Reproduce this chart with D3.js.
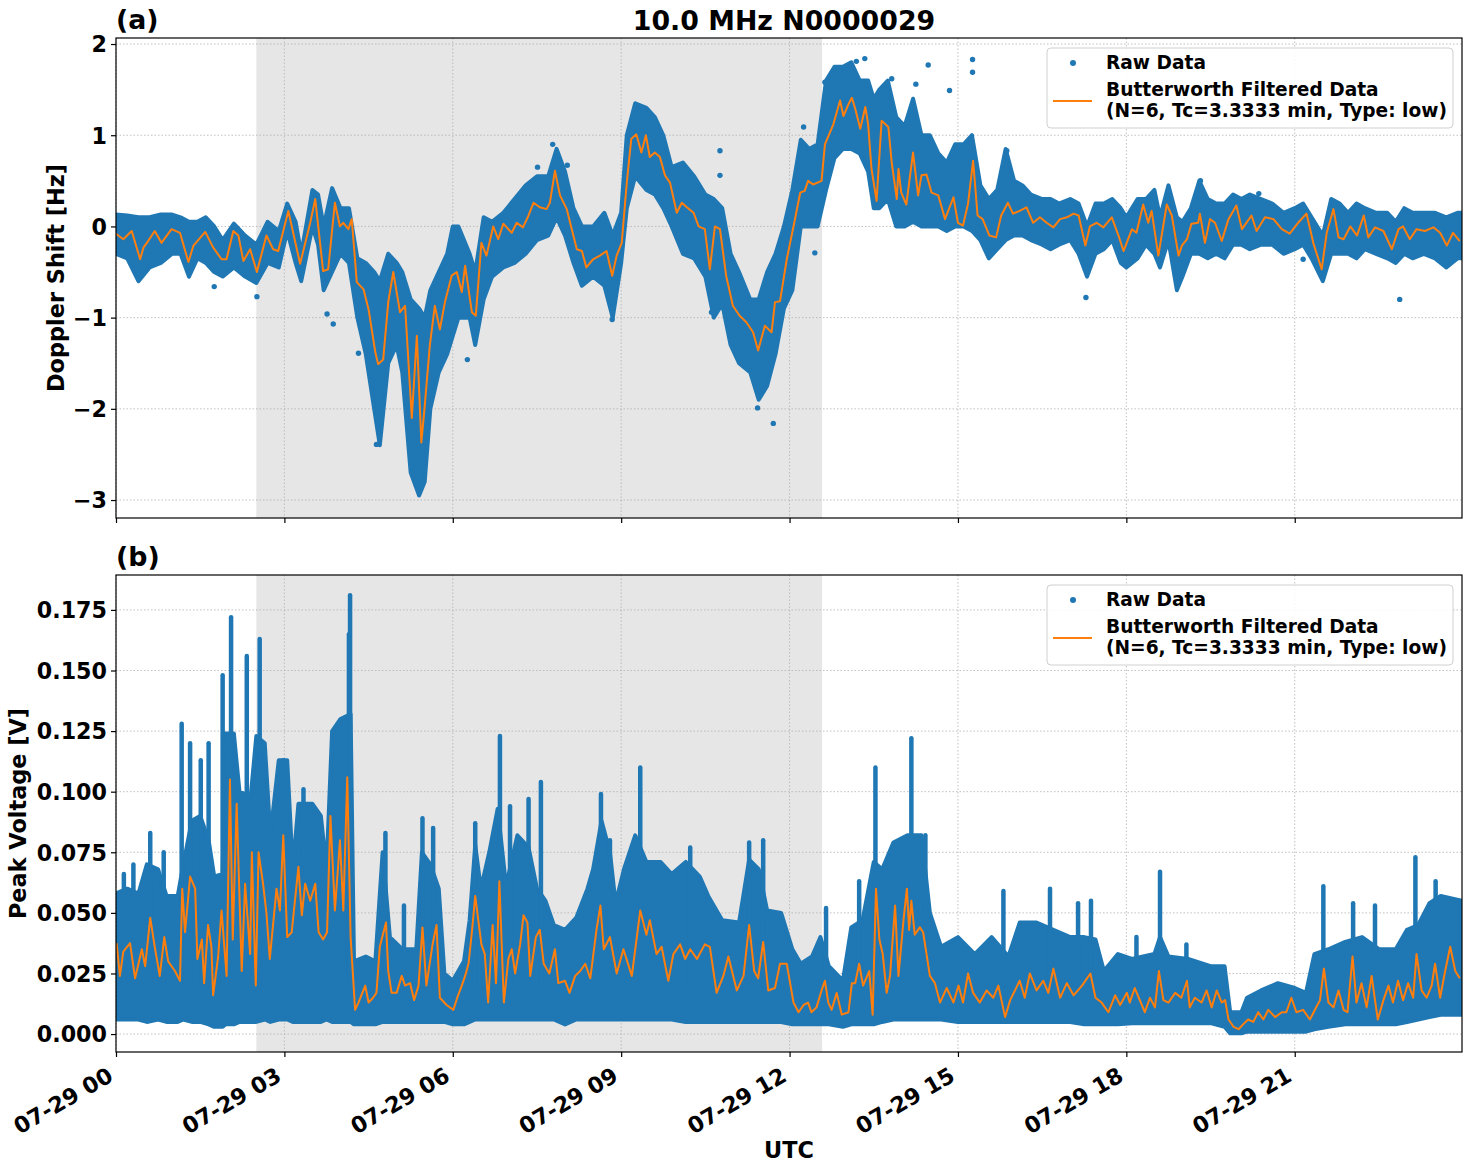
<!DOCTYPE html>
<html><head><meta charset="utf-8">
<script src="https://cdn.jsdelivr.net/npm/d3@7"></script>
<style>
body{margin:0;background:#fff}
text{font-family:"DejaVu Sans",sans-serif;font-weight:bold;fill:#000}
</style>
</head><body>
<svg id="c" width="1472" height="1172"></svg>
<script>
// ---------- DATA (hours after 2024-07-29 00:00 UTC) ----------
const titleText = "10.0 MHz N0000029";
const shadeStartH = 2.5, shadeEndH = 12.58;
const xTickHours = [0,3,6,9,12,15,18,21];
const dopTicks = [-3,-2,-1,0,1,2];
const pvTicks = [0,0.025,0.05,0.075,0.1,0.125,0.15,0.175];

// Doppler: Butterworth filtered
const dopT = [0,0.13,0.28,0.43,0.49,0.55,0.69,0.81,0.99,1.14,1.29,1.38,1.59,1.73,1.88,1.97,2.09,2.18,2.27,2.39,2.51,2.68,2.8,2.89,3.07,3.28,3.46,3.55,3.69,3.78,3.9,3.99,4.05,4.14,4.2,4.29,4.41,4.5,4.62,4.67,4.76,4.85,4.94,5.06,5.15,5.27,5.36,5.44,5.5,5.59,5.68,5.77,5.86,5.98,
6.07,6.16,6.22,6.34,6.41,6.51,6.6,6.72,6.81,6.9,7.05,7.14,7.25,7.35,7.44,7.55,7.67,7.73,7.82,7.91,8.03,8.12,8.21,8.3,8.38,8.5,8.62,8.74,8.84,8.92,9.01,9.1,9.18,9.27,9.36,9.44,9.51,9.6,9.69,9.78,9.87,9.99,10.08,10.17,10.29,10.38,10.49,10.58,10.67,10.76,10.87,10.99,11.11,11.23,11.35,11.44,11.56,11.68,11.74,11.83,11.95,
12.07,12.19,12.27,12.33,12.42,12.57,12.63,12.78,12.9,12.96,13.05,13.11,13.17,13.26,13.35,13.4,13.46,13.55,13.64,13.76,13.82,13.91,13.94,13.99,14.08,14.2,14.29,14.35,14.44,14.53,14.65,14.77,14.92,15,15.09,15.18,15.27,15.35,15.44,15.56,15.68,15.77,15.89,15.98,16.1,16.22,16.34,16.46,16.58,16.7,16.82,16.94,17.06,17.15,17.27,17.35,17.47,17.59,17.74,17.86,17.95,
18.1,18.18,18.3,18.39,18.45,18.57,18.72,18.81,18.93,18.99,19.08,19.16,19.28,19.31,19.4,19.49,19.58,19.7,19.82,19.96,20.06,20.23,20.32,20.47,20.62,20.77,20.91,21.06,21.21,21.33,21.48,21.57,21.69,21.78,21.87,21.99,22.11,22.23,22.31,22.43,22.58,22.73,22.85,22.93,23.05,23.17,23.32,23.47,23.59,23.71,23.82,23.94];
const dopF = [-0.08,-0.14,-0.05,-0.36,-0.23,-0.18,-0.05,-0.18,-0.03,-0.07,-0.39,-0.21,-0.06,-0.23,-0.36,-0.36,-0.05,-0.1,-0.38,-0.25,-0.5,-0.1,-0.25,-0.27,0.17,-0.41,0.04,0.3,-0.49,-0.47,0.26,0,0.04,-0.03,0.08,-0.61,-0.69,-0.91,-1.38,-1.51,-1.46,-0.83,-0.5,-0.94,-0.87,-2.1,-1.2,-2.37,-1.97,-1.31,-0.87,-1.13,-0.83,-0.54,
-0.5,-0.72,-0.43,-0.94,-0.98,-0.18,-0.32,0,-0.14,0.03,-0.07,0.04,-0.01,0.12,0.26,0.21,0.19,0.26,0.61,0.34,0.19,-0.03,-0.25,-0.27,-0.45,-0.36,-0.32,-0.27,-0.54,-0.32,-0.18,0.48,0.96,1.01,0.81,1,0.76,0.81,0.76,0.56,0.48,0.15,0.26,0.21,0.15,0,-0.03,-0.47,0,-0.03,-0.54,-0.87,-0.98,-1.05,-1.16,-1.36,-1.09,-1.16,-0.83,-0.82,-0.36,
0,0.37,0.39,0.5,0.46,0.5,0.9,1.12,1.38,1.21,1.34,1.41,1.29,1.07,1.31,1.12,0.63,0.28,1.16,1.09,0.7,0.3,0.63,0.37,0.24,0.81,0.34,0.56,0.57,0.37,0.34,0.08,0.32,0.04,0.01,0.25,0.72,0.12,0.08,-0.1,-0.12,0.12,0.26,0.14,0.17,0.21,0.04,0.1,0.04,-0.01,0.08,0.1,0.14,0.12,-0.21,0,0.04,-0.01,0.1,-0.1,-0.27,
-0.03,-0.07,0.24,0.04,0.17,-0.32,0.24,0.12,-0.32,-0.21,-0.14,0.03,0.04,0.14,-0.18,0.08,0.04,-0.16,0.08,0.23,-0.03,0.12,-0.05,0.1,0.08,-0.03,-0.08,0.04,0.14,-0.18,-0.47,-0.07,0.19,-0.12,-0.14,0,-0.1,0.12,-0.12,-0.01,-0.05,-0.25,-0.03,0,-0.14,-0.03,-0.05,-0.01,-0.07,-0.21,-0.07,-0.16];

// Doppler: raw data envelope (upper / lower edge of the dense dot cloud)
const dopEnvT = [0,0.2,0.4,0.6,0.8,1,1.15,1.3,1.45,1.6,1.75,1.9,2.1,2.3,2.5,2.7,2.9,3.05,3.2,3.3,3.5,3.6,3.7,3.85,4,4.15,4.3,4.45,4.6,4.7,4.85,5,5.1,5.25,5.4,5.5,5.6,5.75,5.9,6,6.1,6.3,6.4,6.55,6.7,6.9,7.1,7.3,7.5,7.7,7.85,8,8.15,8.3,8.5,8.7,8.85,9,9.1,9.25,9.45,9.6,9.75,9.9,10.1,10.3,10.5,10.65,10.8,10.95,11.1,11.3,11.45,11.6,11.75,11.9,12.05,12.2,12.35,12.5,12.65,12.8,12.95,13.1,13.25,13.4,13.5,13.6,13.75,13.9,14.05,14.2,14.35,14.5,14.65,14.8,14.95,15.1,15.25,15.4,15.55,15.7,15.85,16,16.15,16.3,16.5,16.65,16.8,17,17.15,17.3,17.45,17.6,17.75,17.9,18,18.2,18.35,18.5,18.6,18.75,18.9,19,19.15,19.3,19.45,19.6,19.75,19.9,20.05,20.2,20.4,20.6,20.8,21,21.15,21.3,21.5,21.65,21.8,21.95,22.1,22.25,22.45,22.65,22.8,22.95,23.1,23.3,23.5,23.7,23.9,23.98];
const dopHi = [0.13,0.12,0.1,0.1,0.13,0.13,0.1,0.05,0.05,0.1,0,-0.15,0.03,-0.1,-0.2,0.05,-0.05,0.25,0.05,-0.3,0.4,0.35,0,0.42,0.2,0.2,-0.35,-0.4,-0.5,-0.6,-0.3,-0.4,-0.5,-0.8,-0.9,-1,-0.7,-0.5,-0.3,0,0,-0.3,-0.5,0.1,0.05,0.15,0.3,0.45,0.55,0.55,0.85,0.6,0.2,0,0,0.15,-0.1,0.15,1,1.35,1.3,1.2,1,0.65,0.7,0.55,0.35,0.3,0.2,-0.3,-0.5,-0.8,-0.8,-0.5,-0.3,0,0.4,0.95,0.85,0.9,1.6,1.75,1.75,1.8,1.6,1.6,1.4,1.5,1.6,1.2,1.1,1.4,1,1,0.8,0.7,0.9,0.9,1,0.45,0.3,0.4,0.85,0.5,0.45,0.35,0.3,0.3,0.25,0.3,0.25,0,0.25,0.25,0.3,0.2,0.1,0.3,0.3,0.4,0.1,0.45,0.1,0.05,0.2,0.5,0.3,0.25,0.25,0.35,0.3,0.35,0.3,0.25,0.15,0.2,0.25,0.1,-0.1,0.3,0.25,0.15,0.25,0.2,0.15,0.15,0.05,0.2,0.15,0.15,0.15,0.1,0.15,0.15];
const dopLo = [-0.3,-0.35,-0.6,-0.45,-0.4,-0.3,-0.3,-0.55,-0.35,-0.4,-0.5,-0.55,-0.45,-0.55,-0.62,-0.4,-0.45,-0.05,-0.4,-0.6,0,-0.2,-0.7,-0.5,-0.3,-0.4,-1,-1.4,-2,-2.4,-1.5,-1.3,-1.6,-2.7,-2.95,-2.8,-2,-1.6,-1.4,-1.2,-1,-1,-1.3,-0.8,-0.55,-0.45,-0.4,-0.3,-0.15,-0.1,0.1,-0.1,-0.4,-0.65,-0.55,-0.65,-1,-0.4,0.2,0.55,0.4,0.35,0.2,0,-0.3,-0.35,-0.55,-1,-0.85,-1.3,-1.5,-1.6,-1.9,-1.75,-1.4,-0.9,-0.7,0,0,0,0.4,0.75,0.85,0.85,0.8,0.6,0.2,0.2,0.3,0,0,0.05,0,0,0,-0.05,0,0,-0.05,-0.15,-0.35,-0.25,-0.15,-0.1,-0.1,-0.15,-0.2,-0.25,-0.2,-0.15,-0.3,-0.55,-0.3,-0.25,-0.15,-0.4,-0.45,-0.35,-0.2,-0.3,-0.45,-0.15,-0.7,-0.55,-0.3,-0.3,-0.35,-0.3,-0.35,-0.2,-0.2,-0.25,-0.2,-0.2,-0.3,-0.25,-0.2,-0.35,-0.6,-0.3,-0.3,-0.3,-0.35,-0.25,-0.3,-0.35,-0.4,-0.3,-0.35,-0.3,-0.35,-0.45,-0.35,-0.35];

// Doppler: isolated raw points outside the dense cloud
const dopOutT = [2.51,3.87,3.76,4.32,4.64,1.75,6.26,7.78,7.51,8.04,10.76,10.76,11.71,11.43,10.61,13.34,13.19,14.47,15.26,15.26,14.25,14.85,13.82,12.25,12.63,15.87,17.28,12.45,19.32,22.87,21.15,20.36,8.84];
const dopOutV = [-0.77,-1.07,-0.96,-1.39,-2.39,-0.66,-1.46,0.9,0.65,0.67,0.83,0.56,-2.16,-1.99,-0.94,1.84,1.81,1.77,1.83,1.69,1.56,1.49,1.62,1.09,1.58,0.83,-0.78,-0.29,0.5,-0.8,-0.36,0.36,-1.02];

// Peak voltage: Butterworth filtered
const pvT = [0.01,0.07,0.13,0.25,0.34,0.46,0.52,0.61,0.69,0.78,0.86,0.93,1.05,1.14,1.18,1.23,1.32,1.41,1.45,1.53,1.57,1.64,1.7,1.73,1.82,1.88,1.97,2.03,2.08,2.15,2.24,2.3,2.39,2.42,2.49,2.54,2.62,2.68,2.74,2.86,2.92,2.98,3.05,3.13,3.25,3.31,3.37,3.46,3.55,3.61,3.69,3.76,3.82,3.9,3.99,4.05,4.12,4.18,4.26,4.32,4.44,4.5,4.58,4.64,4.7,4.81,4.85,4.91,5,5.09,5.15,5.24,5.31,5.39,5.46,5.53,5.64,5.71,5.77,5.89,6.01,
6.08,6.16,6.22,6.28,6.34,6.4,6.46,6.51,6.57,6.63,6.71,6.77,6.83,6.91,6.99,7.05,7.11,7.2,7.26,7.33,7.38,7.48,7.55,7.62,7.72,7.82,7.88,8,8.08,8.18,8.27,8.36,8.45,8.56,8.63,8.69,8.8,8.92,9.04,9.19,9.34,9.45,9.51,9.63,9.72,9.84,9.93,10.05,10.14,10.23,10.35,10.49,10.58,10.7,10.82,10.91,11.06,11.18,11.28,11.37,11.44,11.53,11.62,11.74,11.83,11.95,
12.07,12.16,12.25,12.33,12.39,12.48,12.57,12.63,12.69,12.75,12.84,12.93,13.05,13.11,13.17,13.24,13.31,13.42,13.48,13.54,13.6,13.66,13.73,13.79,13.88,13.94,14.03,14.09,14.13,14.17,14.23,14.32,14.38,14.5,14.59,14.68,14.8,14.92,15.01,15.09,15.18,15.27,15.39,15.51,15.63,15.72,15.84,15.93,16.1,16.19,16.28,16.4,16.52,16.61,16.7,16.82,16.94,17.06,17.21,17.36,17.45,17.56,17.68,17.8,17.89,
18.01,18.06,18.15,18.24,18.33,18.42,18.51,18.58,18.66,18.75,18.87,18.98,19.08,19.13,19.22,19.34,19.43,19.52,19.61,19.7,19.76,19.82,19.91,20,20.08,20.17,20.26,20.35,20.44,20.53,20.65,20.77,20.85,20.94,21.03,21.15,21.27,21.36,21.45,21.52,21.6,21.69,21.78,21.87,21.94,22.03,22.1,22.19,22.28,22.37,22.43,22.48,22.58,22.67,22.75,22.84,22.93,23.02,23.11,23.17,23.26,23.35,23.44,23.5,23.59,23.68,23.77,23.86,23.94];
const pvF = [0.0375,0.024,0.034,0.0375,0.023,0.035,0.028,0.048,0.036,0.024,0.04,0.03,0.026,0.022,0.06,0.042,0.065,0.06,0.031,0.039,0.021,0.045,0.036,0.016,0.032,0.051,0.024,0.105,0.039,0.095,0.026,0.062,0.033,0.075,0.02,0.075,0.062,0.05,0.031,0.06,0.051,0.082,0.04,0.042,0.069,0.049,0.062,0.055,0.062,0.042,0.039,0.042,0.09,0.051,0.08,0.051,0.106,0.04,0.01,0.013,0.02,0.013,0.015,0.017,0.036,0.046,0.026,0.017,0.017,0.024,0.02,0.021,0.014,0.02,0.044,0.02,0.037,0.045,0.015,0.012,0.01,
0.015,0.02,0.024,0.029,0.042,0.057,0.046,0.037,0.033,0.013,0.045,0.021,0.063,0.013,0.031,0.035,0.025,0.037,0.049,0.046,0.024,0.04,0.043,0.029,0.025,0.035,0.021,0.022,0.017,0.024,0.026,0.029,0.023,0.043,0.053,0.035,0.04,0.025,0.035,0.024,0.051,0.041,0.047,0.033,0.036,0.022,0.033,0.037,0.031,0.035,0.031,0.037,0.036,0.017,0.024,0.032,0.018,0.024,0.045,0.026,0.023,0.038,0.018,0.019,0.029,0.029,
0.013,0.009,0.012,0.013,0.009,0.011,0.018,0.022,0.013,0.01,0.017,0.008,0.009,0.021,0.021,0.029,0.02,0.026,0.008,0.06,0.039,0.033,0.017,0.024,0.053,0.024,0.047,0.06,0.043,0.055,0.041,0.044,0.042,0.024,0.021,0.013,0.019,0.013,0.02,0.013,0.025,0.017,0.013,0.018,0.015,0.02,0.007,0.014,0.022,0.015,0.025,0.018,0.022,0.017,0.027,0.015,0.021,0.016,0.02,0.025,0.015,0.013,0.009,0.016,0.012,
0.017,0.013,0.019,0.014,0.009,0.015,0.011,0.026,0.014,0.013,0.017,0.015,0.022,0.011,0.015,0.013,0.018,0.011,0.018,0.013,0.014,0.006,0.003,0.002,0.004,0.006,0.005,0.009,0.006,0.01,0.007,0.009,0.009,0.015,0.009,0.01,0.006,0.01,0.014,0.027,0.013,0.011,0.018,0.01,0.009,0.032,0.013,0.021,0.011,0.024,0.014,0.006,0.014,0.02,0.013,0.022,0.014,0.021,0.015,0.033,0.018,0.015,0.02,0.029,0.015,0.026,0.036,0.026,0.023];

// Peak voltage: raw data envelope
const pvEnvT = [0,0.2,0.4,0.55,0.75,0.9,1.1,1.2,1.35,1.5,1.65,1.75,1.9,1.95,2.1,2.2,2.4,2.5,2.65,2.75,2.9,3.05,3.15,3.25,3.5,3.65,3.75,3.85,4,4.18,4.24,4.45,4.62,4.75,4.88,5.1,5.35,5.45,5.6,5.75,5.85,6,6.2,6.3,6.4,6.5,6.65,6.8,6.95,7.15,7.35,7.5,7.65,7.8,8,8.2,8.4,8.5,8.65,8.8,8.9,9.05,9.25,9.45,9.7,9.9,10.15,10.4,10.55,10.8,11.1,11.28,11.45,11.6,11.85,12.05,12.2,12.4,12.55,12.7,12.95,13.1,13.3,13.5,13.65,13.85,14.1,14.35,14.5,14.7,15,15.3,15.6,15.9,16.1,16.4,16.7,17,17.25,17.45,17.6,17.85,18.1,18.5,18.6,18.75,19.1,19.5,19.75,19.85,20.05,20.15,20.4,20.7,21,21.2,21.35,21.6,21.9,22.2,22.5,22.8,23,23.2,23.4,23.6,23.98];
const pvHi = [0.058,0.06,0.058,0.07,0.068,0.057,0.057,0.07,0.088,0.09,0.08,0.065,0.066,0.124,0.124,0.1,0.098,0.123,0.12,0.082,0.113,0.113,0.068,0.095,0.095,0.09,0.068,0.125,0.13,0.132,0.03,0.032,0.03,0.075,0.04,0.035,0.035,0.075,0.07,0.06,0.025,0.022,0.03,0.047,0.078,0.06,0.075,0.093,0.061,0.082,0.077,0.06,0.055,0.045,0.043,0.048,0.06,0.068,0.088,0.075,0.054,0.068,0.082,0.071,0.071,0.066,0.071,0.065,0.057,0.047,0.046,0.072,0.068,0.051,0.05,0.035,0.029,0.032,0.04,0.028,0.022,0.044,0.047,0.071,0.068,0.079,0.082,0.082,0.05,0.036,0.04,0.033,0.04,0.032,0.046,0.046,0.043,0.04,0.04,0.039,0.026,0.033,0.031,0.033,0.04,0.032,0.031,0.028,0.028,0.009,0.009,0.015,0.018,0.021,0.019,0.017,0.033,0.035,0.038,0.04,0.035,0.035,0.043,0.045,0.054,0.057,0.055];
const pvLo = [0.006,0.006,0.006,0.005,0.006,0.005,0.005,0.006,0.005,0.005,0.004,0.003,0.003,0.004,0.004,0.005,0.005,0.005,0.006,0.005,0.006,0.006,0.005,0.005,0.005,0.005,0.006,0.005,0.005,0.005,0.004,0.004,0.004,0.005,0.005,0.005,0.005,0.005,0.005,0.005,0.005,0.004,0.004,0.005,0.006,0.006,0.006,0.006,0.006,0.006,0.006,0.006,0.006,0.006,0.004,0.006,0.006,0.006,0.006,0.006,0.006,0.006,0.006,0.006,0.006,0.006,0.005,0.005,0.005,0.005,0.005,0.005,0.005,0.005,0.005,0.004,0.004,0.004,0.004,0.004,0.003,0.004,0.004,0.004,0.005,0.006,0.006,0.006,0.006,0.006,0.005,0.005,0.005,0.005,0.005,0.005,0.005,0.005,0.004,0.004,0.004,0.004,0.0045,0.0045,0.0045,0.0045,0.0045,0.0045,0.003,0.0003,0.0003,0.001,0.001,0.001,0.001,0.001,0.002,0.003,0.004,0.004,0.004,0.004,0.005,0.006,0.007,0.008,0.008];

// Peak voltage: tall columns of raw points (spikes)
const pvSpkT = [0.14,0.31,0.61,0.85,1.17,1.32,1.51,1.65,1.9,2.05,2.33,2.56,2.98,3.34,4.15,4.17,4.8,5.13,5.46,5.65,6.4,6.84,7.02,7.35,7.57,8.64,8.8,9.34,10.23,11.28,11.53,12.65,13.24,13.53,14.17,14.42,15.81,16.64,17.14,17.37,18.18,18.6,19.07,21.51,22.04,22.43,23.15,23.51];
const pvSpkV = [0.066,0.07,0.083,0.075,0.128,0.12,0.113,0.12,0.148,0.172,0.156,0.163,0.113,0.101,0.165,0.181,0.083,0.053,0.089,0.085,0.087,0.123,0.094,0.097,0.104,0.099,0.08,0.11,0.077,0.079,0.08,0.052,0.063,0.11,0.122,0.082,0.059,0.06,0.054,0.055,0.04,0.067,0.037,0.061,0.054,0.053,0.073,0.063];

// ---------- DRAW ----------
const BLUE = "#1f77b4", ORANGE = "#ff7f0e";
const base = Date.UTC(2024, 6, 29, 0, 0);
const toDate = h => new Date(base + h * 3600e3);
const svg = d3.select("#c");

const L = 116, R = 1462;
const x = d3.scaleUtc().domain([toDate(0), toDate(23.98)]).range([L, R]);

const TICK_FS = 22.2, LAB_FS = 22.4, LEG_FS = 18.6, TITLE_FS = 26.8;

const panels = [
  {top: 38, bot: 518, domain: [-3.197, 2.066], ticks: dopTicks,
   fmt: d => d < 0 ? "\u2212" + Math.abs(d) : String(d),
   ylabel: "Doppler Shift [Hz]", ylx: 64, tag: "(a)", showX: false,
   T: dopT, F: dopF, ET: dopEnvT, EH: dopHi, EL: dopLo, id: "a"},
  {top: 575, bot: 1052, domain: [-0.0074, 0.1894], ticks: pvTicks,
   fmt: d3.format(".3f"),
   ylabel: "Peak Voltage [V]", ylx: 26, tag: "(b)", showX: true,
   T: pvT, F: pvF, ET: pvEnvT, EH: pvHi, EL: pvLo, id: "b"}
];

panels.forEach(p => {
  const y = d3.scaleLinear().domain(p.domain).range([p.bot, p.top]);
  const g = svg.append("g");
  svg.append("clipPath").attr("id", "clip" + p.id).append("rect")
    .attr("x", L).attr("y", p.top).attr("width", R - L).attr("height", p.bot - p.top);

  // shaded interval
  g.append("rect").attr("x", x(toDate(shadeStartH))).attr("y", p.top)
    .attr("width", x(toDate(shadeEndH)) - x(toDate(shadeStartH))).attr("height", p.bot - p.top)
    .attr("fill", "#e6e6e6");

  // grid
  g.selectAll(".gx").data(xTickHours).join("line")
    .attr("x1", d => x(toDate(d))).attr("x2", d => x(toDate(d)))
    .attr("y1", p.top).attr("y2", p.bot)
    .attr("stroke", "#b0b0b0").attr("stroke-width", 0.8).attr("stroke-dasharray", "1.5,2");
  g.selectAll(".gy").data(p.ticks).join("line")
    .attr("x1", L).attr("x2", R).attr("y1", d => y(d)).attr("y2", d => y(d))
    .attr("stroke", "#b0b0b0").attr("stroke-width", 0.8).attr("stroke-dasharray", "1.5,2");

  const dg = g.append("g").attr("clip-path", `url(#clip${p.id})`);
  // raw data cloud
  const env = p.ET.map((t, i) => ({t, hi: p.EH[i], lo: p.EL[i]}));
  dg.append("path").datum(env)
    .attr("d", d3.area().x(d => x(toDate(d.t))).y0(d => y(d.lo)).y1(d => y(d.hi)))
    .attr("fill", BLUE).attr("stroke", BLUE).attr("stroke-width", 4).attr("stroke-linejoin", "round");

  if (p.id === "a") {
    dg.selectAll(".out").data(dopOutT.map((t, i) => ({t, v: dopOutV[i]}))).join("circle")
      .attr("cx", d => x(toDate(d.t))).attr("cy", d => y(d.v)).attr("r", 2.7).attr("fill", BLUE);
  } else {
    const spk = pvSpkT.map((t, i) => ({t, v: pvSpkV[i]}));
    dg.selectAll(".spk").data(spk).join("line")
      .attr("x1", d => x(toDate(d.t))).attr("x2", d => x(toDate(d.t)))
      .attr("y1", y(0.02)).attr("y2", d => y(d.v))
      .attr("stroke", BLUE).attr("stroke-width", 4.5).attr("stroke-linecap", "round");
  }

  // filtered line
  const filt = p.T.map((t, i) => ({t, v: p.F[i]}));
  dg.append("path").datum(filt)
    .attr("d", d3.line().x(d => x(toDate(d.t))).y(d => y(d.v)))
    .attr("fill", "none").attr("stroke", ORANGE).attr("stroke-width", 2).attr("stroke-linejoin", "round");

  // frame
  g.append("rect").attr("x", L).attr("y", p.top).attr("width", R - L).attr("height", p.bot - p.top)
    .attr("fill", "none").attr("stroke", "#000").attr("stroke-width", 1.2);

  // y axis
  const ya = g.append("g").attr("transform", `translate(${L},0)`)
    .call(d3.axisLeft(y).tickValues(p.ticks).tickFormat(p.fmt).tickSize(5).tickPadding(4));
  ya.select(".domain").remove();
  ya.selectAll("text").attr("font-size", TICK_FS).attr("font-family", "DejaVu Sans").attr("font-weight", "bold").attr("dy", "0.35em");
  ya.selectAll("line").attr("stroke", "#000").attr("stroke-width", 1.2);

  // x axis ticks
  const xa = g.append("g").attr("transform", `translate(0,${p.bot})`)
    .call(d3.axisBottom(x).tickValues(xTickHours.map(toDate)).tickSize(5)
      .tickFormat(p.showX ? d3.utcFormat("%m-%d %H") : ""));
  xa.select(".domain").remove();
  xa.selectAll("line").attr("stroke", "#000").attr("stroke-width", 1.2);
  if (p.showX) {
    xa.selectAll("text")
      .attr("font-size", TICK_FS).attr("font-family", "DejaVu Sans").attr("font-weight", "bold")
      .attr("text-anchor", "end").attr("dy", null).attr("y", null)
      .attr("transform", "translate(-2,28) rotate(-30)");
  }

  // y label
  svg.append("text").attr("transform", `translate(${p.ylx},${(p.top + p.bot) / 2}) rotate(-90)`)
    .attr("text-anchor", "middle").attr("font-size", LAB_FS).text(p.ylabel);
  // panel tag
  svg.append("text").attr("x", L).attr("y", p.top - 9).attr("font-size", TITLE_FS).text(p.tag);

  // legend
  const lg = svg.append("g").attr("transform", `translate(1047,${p.top + 10})`);
  lg.append("rect").attr("x", 0).attr("y", 0).attr("width", 406).attr("height", 80).attr("rx", 4)
    .attr("fill", "#fff").attr("fill-opacity", 0.85).attr("stroke", "#d0d0d0");
  lg.append("circle").attr("cx", 26).attr("cy", 15).attr("r", 3).attr("fill", BLUE);
  lg.append("line").attr("x1", 6).attr("x2", 45).attr("y1", 53).attr("y2", 53)
    .attr("stroke", ORANGE).attr("stroke-width", 2);
  lg.append("text").attr("x", 59).attr("y", 21).attr("font-size", LEG_FS).text("Raw Data");
  lg.append("text").attr("x", 59).attr("y", 48).attr("font-size", LEG_FS).text("Butterworth Filtered Data");
  lg.append("text").attr("x", 59).attr("y", 69).attr("font-size", LEG_FS).text("(N=6, Tc=3.3333 min, Type: low)");
});

svg.append("text").attr("x", 784).attr("y", 30).attr("text-anchor", "middle")
  .attr("font-size", TITLE_FS).text(titleText);
svg.append("text").attr("x", 789).attr("y", 1158).attr("text-anchor", "middle")
  .attr("font-size", LAB_FS).text("UTC");
</script>
</body></html>
